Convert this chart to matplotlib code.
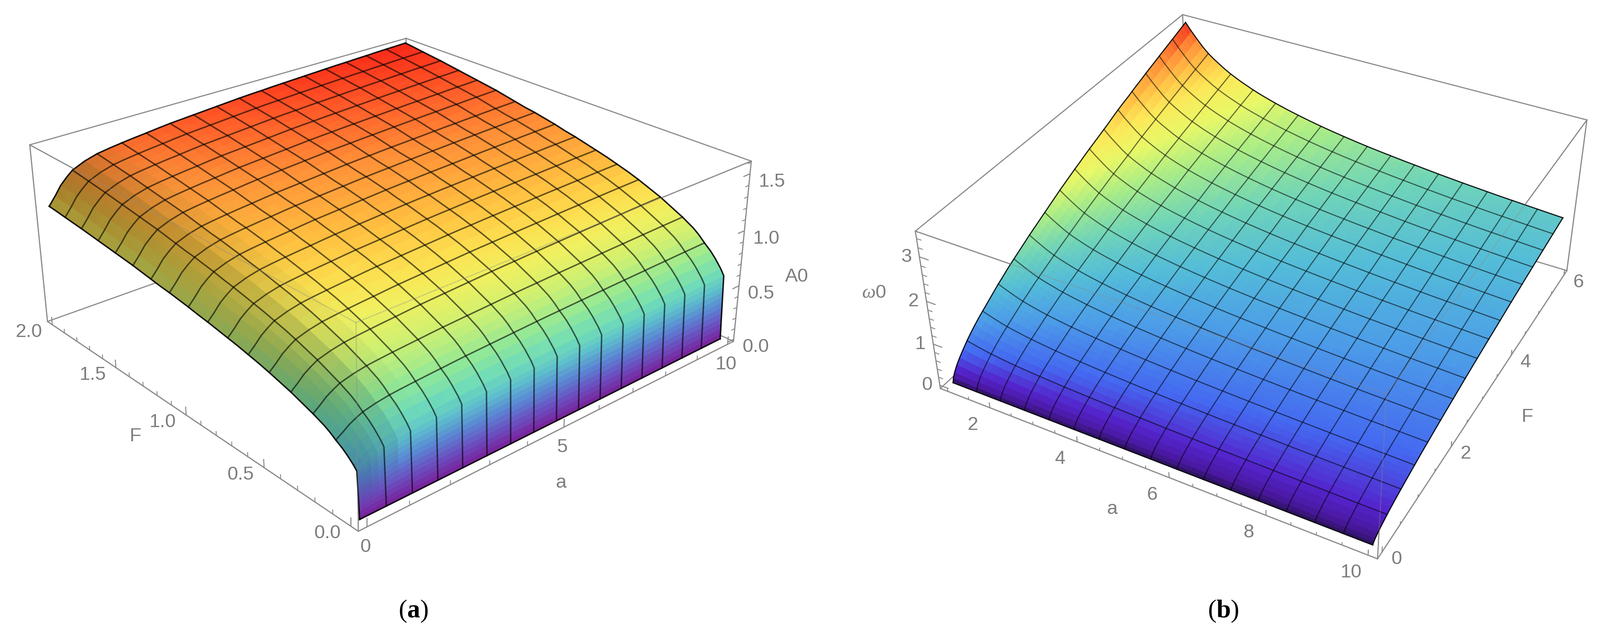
import numpy as np
import matplotlib
matplotlib.use("Agg")
import matplotlib.pyplot as plt
from matplotlib.colors import LinearSegmentedColormap
from mpl_toolkits.mplot3d import proj3d

W, H = 3960, 1579

plt.rcParams["font.family"] = ["Liberation Sans", "DejaVu Sans"]
plt.rcParams["mathtext.fontset"] = "custom"
plt.rcParams["mathtext.bf"] = "Liberation Serif:bold"
plt.rcParams["mathtext.it"] = "Liberation Serif:italic"
plt.rcParams["mathtext.rm"] = "Liberation Serif"

# panel (a): read along the a = 10 edge and along the F = 2 edge
F_a = [0, 0.001, 0.002, 0.003, 0.004, 0.005, 0.006, 0.007, 0.008, 0.009, 0.01, 0.011, 0.012, 0.03, 0.0625, 0.09,
       0.125, 0.15625, 0.1875, 0.21875, 0.25, 0.28125, 0.3125, 0.34375, 0.375, 0.40625, 0.4375,
       0.46875, 0.5, 0.5625, 0.625, 0.6875, 0.75, 0.8125, 0.875, 0.9375, 1.0, 1.0625, 1.125, 1.1875, 1.25, 1.3125,
       1.375, 1.4375, 1.5, 1.5625, 1.625, 1.6875, 1.75, 1.8125, 1.875, 1.9375, 2.0]
A0_vs_F = [0, 0.048, 0.097, 0.145, 0.193, 0.242, 0.29, 0.338, 0.387, 0.435, 0.483, 0.532, 0.58, 0.63, 0.70, 0.75,
           0.80, 0.85, 0.89, 0.92, 0.95, 0.975, 1.0, 1.025, 1.05, 1.07, 1.09,
           1.11, 1.13, 1.165, 1.195, 1.225, 1.25, 1.275, 1.30, 1.32, 1.345, 1.365, 1.385, 1.40, 1.42, 1.44,
           1.46, 1.475, 1.49, 1.505, 1.52, 1.535, 1.55, 1.562, 1.575, 1.588, 1.6]
a_a = [0, 0.15625, 0.3125, 0.46875, 0.625, 0.9375, 1.25, 1.5625, 1.875, 2.1875, 2.5, 2.8125, 3.125, 3.4375, 3.75,
       4.0625, 4.375, 4.6875, 5.0, 5.3125, 5.625, 5.9375, 6.25, 6.5625, 6.875, 7.1875, 7.5, 7.8125, 8.125, 8.4375,
       8.75, 9.0625, 9.375, 9.6875, 10.0]
A0_ratio_vs_a = [0.665, 0.71, 0.76, 0.795, 0.825, 0.855, 0.875, 0.886, 0.895, 0.903, 0.91, 0.918, 0.925, 0.93, 0.935,
                 0.94, 0.945, 0.95, 0.955, 0.959, 0.962, 0.966, 0.969, 0.972, 0.975, 0.978, 0.981, 0.984, 0.986,
                 0.989, 0.991, 0.994, 0.996, 0.998, 1.0]

# panel (b): read along the a = 1 edge and along the F = 6 edge
F_b = [0, 0.02, 0.06, 0.12, 0.19, 0.28, 0.375, 0.46875, 0.5625, 0.65625, 0.75, 0.84375, 0.9375, 1.03125, 1.125,
       1.21875, 1.3125, 1.40625, 1.5, 1.59375, 1.6875, 1.78125, 1.875, 1.96875, 2.0625, 2.15625, 2.25, 2.34375,
       2.4375, 2.53125, 2.625, 2.71875, 2.8125, 2.90625, 3.0, 3.09375, 3.1875, 3.28125, 3.375, 3.46875, 3.5625,
       3.65625, 3.75, 3.84375, 3.9375, 4.03125, 4.125, 4.21875, 4.3125, 4.40625, 4.5, 4.59375, 4.6875, 4.78125,
       4.875, 4.96875, 5.0625, 5.15625, 5.25, 5.34375, 5.4375, 5.53125, 5.625, 5.71875, 5.8125, 5.90625, 6.0]
w0_vs_F = [0, 0.10, 0.20, 0.31, 0.41, 0.52, 0.63, 0.725, 0.81, 0.89, 0.96, 1.03, 1.10, 1.17, 1.24,
           1.30, 1.365, 1.425, 1.48, 1.535, 1.59, 1.645, 1.70, 1.75, 1.80, 1.85, 1.90, 1.95,
           2.0, 2.05, 2.10, 2.145, 2.19, 2.235, 2.28, 2.32, 2.365, 2.41, 2.45, 2.49, 2.53,
           2.57, 2.61, 2.65, 2.695, 2.74, 2.78, 2.82, 2.855, 2.89, 2.93, 2.97, 3.005, 3.04,
           3.08, 3.115, 3.15, 3.185, 3.22, 3.255, 3.29, 3.325, 3.36, 3.395, 3.43, 3.465, 3.5]
a_b = [1.0, 1.140625, 1.28125, 1.421875, 1.5625, 1.703125, 1.84375, 1.984375, 2.125, 2.265625, 2.40625, 2.546875,
       2.6875, 2.828125, 2.96875, 3.109375, 3.25, 3.53125, 3.8125, 4.09375, 4.375,
       4.65625, 4.9375, 5.21875, 5.5, 5.78125, 6.0625, 6.34375, 6.625, 6.90625, 7.1875, 7.46875, 7.75, 8.03125,
       8.3125, 8.59375, 8.875, 9.15625, 9.4375, 9.71875, 10.0]
w0_ratio_vs_a = [1.0, 0.95, 0.905, 0.862, 0.825, 0.796, 0.77, 0.745, 0.723, 0.704, 0.686, 0.67,
                 0.654, 0.64, 0.627, 0.615, 0.603, 0.582, 0.563, 0.546, 0.530, 0.516,
                 0.503, 0.491, 0.480, 0.470, 0.461, 0.452, 0.444, 0.436, 0.428, 0.421, 0.414, 0.408, 0.402, 0.396,
                 0.391, 0.386, 0.381, 0.376, 0.3715]

a_ticks_a = [0, 5, 10]
F_ticks_a = [0.0, 0.5, 1.0, 1.5, 2.0]
z_ticks_a = [0.0, 0.5, 1.0, 1.5]
a_ticks_b = [2, 4, 6, 8, 10]
F_ticks_b = [0, 2, 4, 6]
z_ticks_b = [0, 1, 2, 3]

colors_a = [(0.0, "#7a1f9a"), (0.1, "#6a50c0"), (0.2, "#5a88d4"), (0.3, "#5ec0cc"), (0.38, "#70dcb8"),
            (0.45, "#90e898"), (0.55, "#d0f070"), (0.62, "#f0f060"), (0.68, "#fce050"), (0.75, "#ffc040"),
            (0.85, "#ff9038"), (0.93, "#ff5a28"), (1.0, "#f82818")]
colors_b = [(0.0, "#2a1258"), (0.03, "#4a18a0"), (0.07, "#5424cc"), (0.14, "#4468f0"), (0.24, "#4c9ce8"),
            (0.33, "#54bcd8"), (0.42, "#70d4b8"), (0.52, "#a8ec88"), (0.62, "#e8f868"), (0.72, "#fce858"),
            (0.80, "#ffc448"), (0.90, "#ff8c38"), (1.0, "#f02c1c")]
cmap_a = LinearSegmentedColormap.from_list("rainbow_a", colors_a)
cmap_b = LinearSegmentedColormap.from_list("rainbow_b", colors_b)

GRAY = "#7d7d7d"
BOX = "#8a8a8a"

fig = plt.figure(figsize=(W / 100, H / 100), dpi=100)


def make_axes(l, b, w, lims, view, focal, aspect):
    ax = fig.add_axes([l / W, b / H, w / W, w / H], projection="3d", computed_zorder=False)
    ax.set_xlim(*lims[0])
    ax.set_ylim(*lims[1])
    ax.set_zlim(*lims[2])
    ax.view_init(elev=view[0], azim=view[1], roll=view[2])
    ax.set_proj_type("persp", focal_length=focal)
    ax.set_box_aspect(aspect)
    ax.set_axis_off()
    ax.patch.set_alpha(0)
    return ax


def draw_surface(ax, a, F, z, lims, cmap, dark, lw, alpha):
    a = np.array(a)
    F = np.array(F)
    X, Y = np.meshgrid(a, F)
    # cell colour from the mean height of its corners
    zc = (z[:-1, :-1] + z[1:, :-1] + z[:-1, 1:] + z[1:, 1:]) / 4
    fc = cmap(zc / z.max())
    # the steep part near a = 0 sits in shadow
    slope = np.gradient(z, a, axis=1)[:-1, :-1] * (lims[0][1] - lims[0][0]) / (lims[2][1] - lims[2][0])
    fc[..., :3] *= (1 - dark * np.clip((slope - 0.2) / (slope + 1.2), 0, 1))[..., None]
    surf = ax.plot_surface(X, Y, z, rstride=1, cstride=1, facecolors=fc, linewidth=0,
                           antialiased=False, shade=False, zorder=2)
    surf.set_clip_on(False)
    # Mesh->15, so 17 lines each way with the borders
    for n, v in enumerate(np.linspace(a[0], a[-1], 17)):
        i = np.argmin(abs(a - v))
        al = 0.9 if n in (0, 16) else alpha
        ax.plot(np.full(len(F), a[i]), F, z[:, i], color="k", lw=lw, alpha=al, zorder=3, clip_on=False)
    for n, v in enumerate(np.linspace(F[0], F[-1], 17)):
        i = np.argmin(abs(F - v))
        al = 0.9 if n in (0, 16) else alpha
        ax.plot(a, np.full(len(a), F[i]), z[i, :], color="k", lw=lw, alpha=al, zorder=3, clip_on=False)


def draw_box(ax, lims, front):
    # front is the (ia, iF) of the nearest vertical edge
    for i in range(2):
        for j in range(2):
            for axis in range(3):
                if axis == 0:
                    p = [list(lims[0]), [lims[1][i]] * 2, [lims[2][j]] * 2]
                    near = i == front[1]
                elif axis == 1:
                    p = [[lims[0][i]] * 2, list(lims[1]), [lims[2][j]] * 2]
                    near = i == front[0]
                else:
                    p = [[lims[0][i]] * 2, [lims[1][j]] * 2, list(lims[2])]
                    near = i == front[0] or j == front[1]
                ax.plot(*p, color=BOX, lw=2.0, zorder=1, clip_on=False)
                # the near edges show faintly through the surface
                if near:
                    ax.plot(*p, color=BOX, lw=2.0, alpha=0.35, zorder=4, clip_on=False)


def ticks(ax, axis, fixed, major, minor, ln, direction):
    for v in np.concatenate([minor, major]):
        size = ln if v in major else ln * 0.5
        p0 = list(fixed)
        p0[axis] = v
        p1 = list(p0)
        p1[direction[0]] += direction[1] * size
        ax.plot([p0[0], p1[0]], [p0[1], p1[1]], [p0[2], p1[2]], color=BOX, lw=1.6, zorder=4, clip_on=False)


def tick_labels(ax, axis, fixed, values, labels, dx, dy):
    ax.apply_aspect()
    M = ax.get_proj()
    for v, s in zip(values, labels):
        p = list(fixed)
        p[axis] = v
        xd, yd, _ = proj3d.proj_transform(p[0], p[1], p[2], M)
        px, py = ax.transData.transform((xd, yd))
        fig.text((px + dx) / W, (py + dy) / H, s, color=GRAY, fontsize=34, ha="center", va="center")


# panel (a)
lims = ((-0.2, 10.2), (-0.04, 2.04), (-0.02, 1.61))
ax = make_axes(52.8, 71.5, 1758.2, lims, (25.365, -131.184, 0.133), np.exp(-0.829), (2.528, 2.523, 1))
A0 = np.outer(A0_vs_F, A0_ratio_vs_a)
draw_box(ax, lims, (0, 0))
draw_surface(ax, a_a, F_a, A0, lims, cmap_a, 0.5, 2.6, 0.6)
ticks(ax, 0, (0, lims[1][0], lims[2][0]), a_ticks_a, np.arange(0, 10.01, 1), 0.07, (2, 1))
ticks(ax, 1, (lims[0][0], 0, lims[2][0]), F_ticks_a, np.arange(0, 2.01, 0.1), 0.07, (2, 1))
ticks(ax, 2, (lims[0][1], lims[1][0], 0), z_ticks_a, np.arange(0, 1.61, 0.1), 0.2, (0, -1))
tick_labels(ax, 0, (0, lims[1][0], lims[2][0]), a_ticks_a, ["0", "5", "10"], -4, -50)
tick_labels(ax, 1, (lims[0][0], 0, lims[2][0]), F_ticks_a, ["0.0", "0.5", "1.0", "1.5", "2.0"], -58, -18)
tick_labels(ax, 2, (lims[0][1], lims[1][0], 0), z_ticks_a, ["0.0", "0.5", "1.0", "1.5"], 54, -20)
fig.text(335 / W, 1 - 1080 / H, "F", color=GRAY, fontsize=34, ha="center", va="center")
fig.text(1389 / W, 1 - 1195 / H, "a", color=GRAY, fontsize=34, ha="center", va="center")
fig.text(1972 / W, 1 - 685 / H, "A0", color=GRAY, fontsize=34, ha="center", va="center")

# panel (b)
lims = ((0.82, 10.18), (-0.12, 6.12), (-0.08, 3.56))
ax = make_axes(2272.7, 89.0, 1684.8, lims, (36.182, -61.443, 0.138), np.exp(-0.816), (2.502, 2.506, 1))
w0 = np.outer(w0_vs_F, w0_ratio_vs_a)
draw_box(ax, lims, (1, 0))
draw_surface(ax, a_b, F_b, w0, lims, cmap_b, 0.0, 2.0, 0.55)
ticks(ax, 0, (0, lims[1][0], lims[2][0]), a_ticks_b, np.arange(1, 10.01, 0.5), 0.12, (2, 1))
ticks(ax, 1, (lims[0][1], 0, lims[2][0]), F_ticks_b, np.arange(0, 6.01, 0.5), 0.12, (2, 1))
ticks(ax, 2, (lims[0][0], lims[1][0], 0), z_ticks_b, np.arange(0, 3.41, 0.2), 0.2, (0, 1))
tick_labels(ax, 0, (0, lims[1][0], lims[2][0]), a_ticks_b, ["2", "4", "6", "8", "10"], -42, -43)
tick_labels(ax, 1, (lims[0][1], 0, lims[2][0]), F_ticks_b, ["0", "2", "4", "6"], 36, -18)
tick_labels(ax, 2, (lims[0][0], lims[1][0], 0), z_ticks_b, ["0", "1", "2", "3"], -32, 0)
fig.text(2753 / W, 1 - 1260 / H, "a", color=GRAY, fontsize=34, ha="center", va="center")
fig.text(3780 / W, 1 - 1032 / H, "F", color=GRAY, fontsize=34, ha="center", va="center")
fig.text(2163 / W, 1 - 725 / H, r"$\omega$0", color=GRAY, fontsize=34, ha="center", va="center")

# captions
fig.text(1023 / W, 1 - 1513 / H, r"($\mathbf{a}$)", family="Liberation Serif", fontsize=46, ha="center", va="center")
fig.text(3028 / W, 1 - 1513 / H, r"($\mathbf{b}$)", family="Liberation Serif", fontsize=46, ha="center", va="center")

fig.savefig("out.png", dpi=100)
